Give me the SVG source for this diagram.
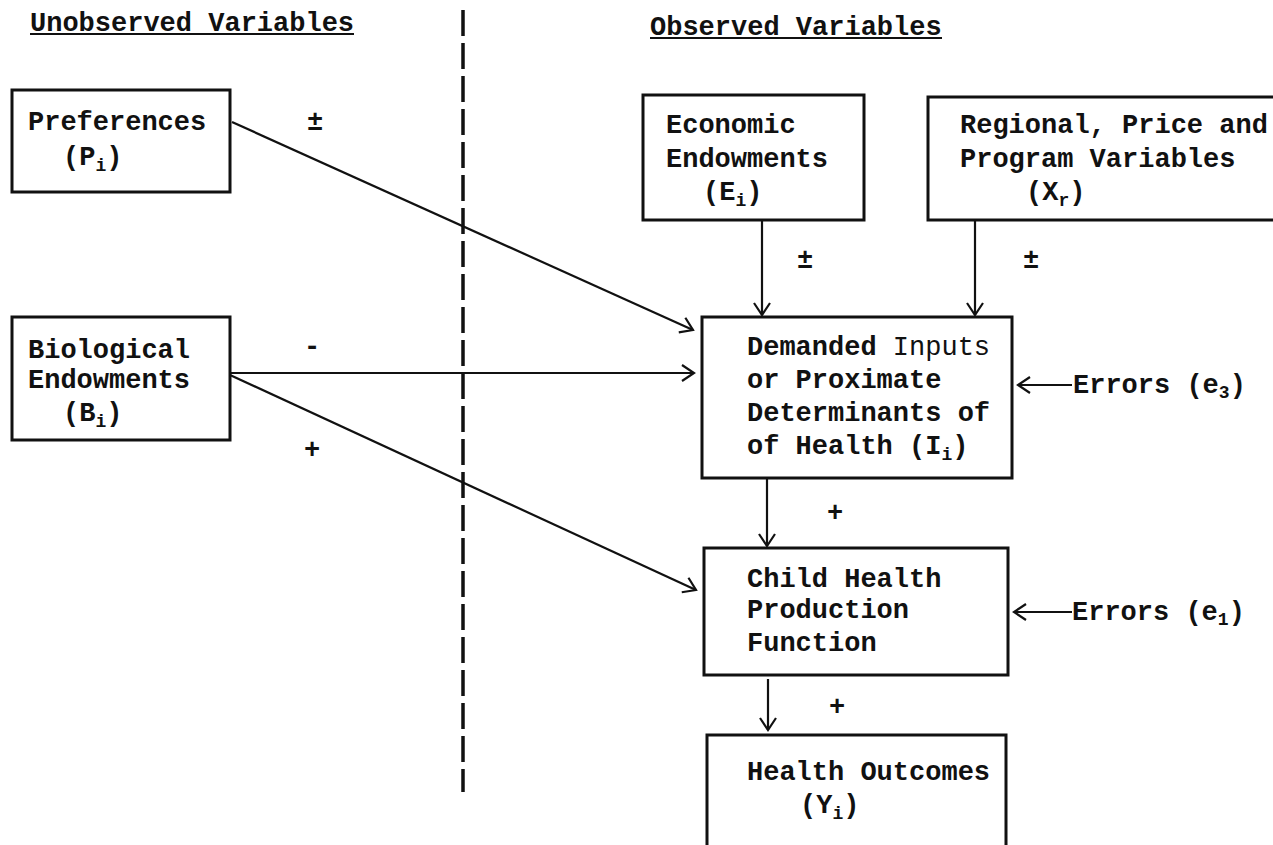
<svg xmlns="http://www.w3.org/2000/svg" width="1273" height="845" viewBox="0 0 1273 845">
<style>
text{font-family:"Liberation Mono","DejaVu Sans Mono",monospace;font-size:27px;font-weight:bold;fill:#111}
.sub{font-size:18px}
.sign{text-anchor:middle}
.box{fill:none;stroke:#111;stroke-width:3}
.ln{fill:none;stroke:#111;stroke-width:2.2}
</style>
<defs>
<marker id="ah" markerUnits="userSpaceOnUse" markerWidth="16" markerHeight="20" refX="13" refY="9" orient="auto">
<path d="M1,1 L13,9 L1,17" fill="none" stroke="#111" stroke-width="2.2"/>
</marker>
</defs>
<rect width="1273" height="845" fill="#fff"/>
<g id="headings">
<text x="30" y="31">Unobserved Variables</text>
<line x1="30" y1="34" x2="354" y2="34" stroke="#111" stroke-width="2.2"/>
<text x="650" y="35">Observed Variables</text>
<line x1="650" y1="38" x2="942" y2="38" stroke="#111" stroke-width="2.2"/>
</g>
<line id="divider" x1="463" y1="10" x2="463" y2="792" stroke="#111" stroke-width="3.5" stroke-dasharray="26 7"/>
<g id="preferences">
<rect class="box" x="12" y="90" width="218" height="102"/>
<text x="28" y="130">Preferences</text>
<text x="63" y="165">(P<tspan class="sub" dy="6">i</tspan><tspan dy="-6">)</tspan></text>
</g>
<g id="biological">
<rect class="box" x="12" y="317" width="218" height="123"/>
<text x="28" y="358">Biological</text>
<text x="28" y="388">Endowments</text>
<text x="63" y="421">(B<tspan class="sub" dy="6">i</tspan><tspan dy="-6">)</tspan></text>
</g>
<g id="economic">
<rect class="box" x="643" y="95" width="221" height="125"/>
<text x="666" y="133">Economic</text>
<text x="666" y="167">Endowments</text>
<text x="703" y="200">(E<tspan class="sub" dy="6">i</tspan><tspan dy="-6">)</tspan></text>
</g>
<g id="regional">
<rect class="box" x="928" y="97" width="360" height="123"/>
<text x="960" y="133">Regional, Price and</text>
<text x="960" y="167">Program Variables</text>
<text x="1026" y="200">(X<tspan class="sub" dy="6">r</tspan><tspan dy="-6">)</tspan></text>
</g>
<g id="demanded">
<rect class="box" x="702" y="317" width="310" height="161"/>
<text x="747" y="355">Demanded<tspan font-weight="normal"> Inputs</tspan></text>
<text x="747" y="388">or Proximate</text>
<text x="747" y="421">Determinants of</text>
<text x="747" y="454">of Health (I<tspan class="sub" dy="6">i</tspan><tspan dy="-6">)</tspan></text>
</g>
<g id="errors3">
<text x="1073" y="393">Errors (e<tspan class="sub" dy="5">3</tspan><tspan dy="-5">)</tspan></text>
</g>
<g id="child">
<rect class="box" x="704" y="548" width="304" height="127"/>
<text x="747" y="587">Child Health</text>
<text x="747" y="618">Production</text>
<text x="747" y="651">Function</text>
</g>
<g id="errors1">
<text x="1072" y="620">Errors (e<tspan class="sub" dy="5">1</tspan><tspan dy="-5">)</tspan></text>
</g>
<g id="outcomes">
<rect class="box" x="707" y="735" width="299" height="130"/>
<text x="747" y="780">Health Outcomes</text>
<text x="800" y="813">(Y<tspan class="sub" dy="6">i</tspan><tspan dy="-6">)</tspan></text>
</g>
<g id="connectors">
<line class="ln" x1="232" y1="122" x2="693" y2="330" marker-end="url(#ah)"/>
<line class="ln" x1="230" y1="373" x2="694" y2="373" marker-end="url(#ah)"/>
<line class="ln" x1="230" y1="375" x2="696" y2="590" marker-end="url(#ah)"/>
<line class="ln" x1="762" y1="220" x2="762" y2="315" marker-end="url(#ah)"/>
<line class="ln" x1="975" y1="220" x2="975" y2="315" marker-end="url(#ah)"/>
<line class="ln" x1="1072" y1="385" x2="1018" y2="385" marker-end="url(#ah)"/>
<line class="ln" x1="767" y1="479" x2="767" y2="546" marker-end="url(#ah)"/>
<line class="ln" x1="1072" y1="612" x2="1014" y2="612" marker-end="url(#ah)"/>
<line class="ln" x1="768" y1="679" x2="768" y2="730" marker-end="url(#ah)"/>
</g>
<g id="signs">
<text class="sign" x="315" y="130">±</text>
<text class="sign" x="312" y="355">-</text>
<text class="sign" x="312" y="458">+</text>
<text class="sign" x="805" y="268">±</text>
<text class="sign" x="1031" y="268">±</text>
<text class="sign" x="835" y="521">+</text>
<text class="sign" x="837" y="715">+</text>
</g>
</svg>
